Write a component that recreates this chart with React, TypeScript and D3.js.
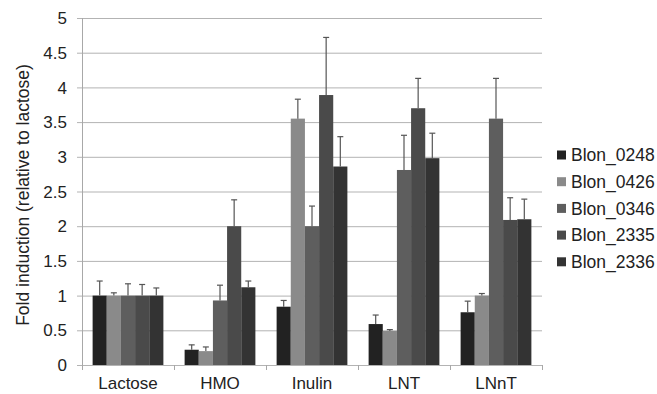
import React, { useEffect, useRef } from 'react';
import * as d3 from 'd3';

// categories on the x axis
const categories = ['Lactose', 'HMO', 'Inulin', 'LNT', 'LNnT'];
const genes = ['Blon_0248', 'Blon_0426', 'Blon_0346', 'Blon_2335', 'Blon_2336'];
const colors = ['#222222', '#8a8a8a', '#5e5e5e', '#4a4a4a', '#333333'];

// fold induction per gene, one value per category
const blon0248 = [1.0, 0.22, 0.84, 0.59, 0.76];
const blon0426 = [1.0, 0.2, 3.55, 0.49, 1.0];
const blon0346 = [1.0, 0.93, 2.0, 2.81, 3.55];
const blon2335 = [1.0, 2.0, 3.89, 3.7, 2.09];
const blon2336 = [1.0, 1.12, 2.86, 2.98, 2.1];

// top of the error bars
const err0248 = [1.21, 0.29, 0.93, 0.72, 0.92];
const err0426 = [1.04, 0.26, 3.83, 0.51, 1.03];
const err0346 = [1.17, 1.15, 2.29, 3.31, 4.13];
const err2335 = [1.16, 2.38, 4.72, 4.13, 2.41];
const err2336 = [1.11, 1.21, 3.29, 3.34, 2.39];

const yTicks = [0, 0.5, 1, 1.5, 2, 2.5, 3, 3.5, 4, 4.5, 5];

const App = () => {
  const svgRef = useRef(null);

  useEffect(() => {
    const values = [blon0248, blon0426, blon0346, blon2335, blon2336];
    const errors = [err0248, err0426, err0346, err2335, err2336];
    const font = 'Liberation Sans, Arial, sans-serif';

    const svg = d3.select(svgRef.current);
    svg.selectAll('*').remove();

    const left = 82, right = 542, top = 18, bottom = 365;

    const x = d3.scaleBand().domain(categories).range([left, right]).paddingInner(0).paddingOuter(0);
    const x1 = d3.scaleBand().domain(genes).range([0, x.bandwidth()]).paddingOuter(0.75).paddingInner(0);
    const y = d3.scaleLinear().domain([0, 5]).range([bottom, top]);

    // gridlines + left ticks
    svg.append('g')
      .selectAll('line')
      .data(yTicks)
      .join('line')
      .attr('x1', left - 5)
      .attr('x2', right)
      .attr('y1', d => y(d) + 0.5)
      .attr('y2', d => y(d) + 0.5)
      .attr('stroke', '#b3b3b3')
      .attr('stroke-width', 1);

    svg.append('g')
      .selectAll('text')
      .data(yTicks)
      .join('text')
      .attr('x', 67)
      .attr('y', d => y(d))
      .attr('dy', '0.36em')
      .attr('text-anchor', 'end')
      .attr('font-family', font)
      .attr('font-size', 17)
      .attr('fill', '#222')
      .text(d => String(d));

    // axes lines
    svg.append('line')
      .attr('x1', left + 0.5).attr('x2', left + 0.5)
      .attr('y1', top).attr('y2', bottom + 5)
      .attr('stroke', '#a8a8a8');

    const boundaries = [left].concat(categories.map(c => x(c) + x.bandwidth()));
    svg.append('g')
      .selectAll('line')
      .data(boundaries)
      .join('line')
      .attr('x1', d => d + 0.5).attr('x2', d => d + 0.5)
      .attr('y1', bottom).attr('y2', bottom + 5)
      .attr('stroke', '#a8a8a8');

    // bars
    const groups = svg.append('g')
      .selectAll('g')
      .data(genes)
      .join('g')
      .attr('fill', (d, i) => colors[i]);

    groups.each(function (gene, gi) {
      const g = d3.select(this);
      categories.forEach((cat, ci) => {
        const v = values[gi][ci];
        const bx = x(cat) + x1(gene);
        g.append('rect')
          .attr('x', bx)
          .attr('y', y(v))
          .attr('width', x1.bandwidth())
          .attr('height', y(0) - y(v));
        const cx = bx + x1.bandwidth() / 2;
        const e = errors[gi][ci];
        g.append('line')
          .attr('x1', cx).attr('x2', cx)
          .attr('y1', y(v)).attr('y2', y(e))
          .attr('stroke', '#555').attr('stroke-width', 1.2);
        g.append('line')
          .attr('x1', cx - 3).attr('x2', cx + 3)
          .attr('y1', y(e)).attr('y2', y(e))
          .attr('stroke', '#555').attr('stroke-width', 1.2);
      });
    });

    // category labels
    svg.append('g')
      .selectAll('text')
      .data(categories)
      .join('text')
      .attr('x', d => x(d) + x.bandwidth() / 2)
      .attr('y', 389)
      .attr('text-anchor', 'middle')
      .attr('font-family', font)
      .attr('font-size', 17)
      .attr('fill', '#222')
      .text(d => d);

    // y axis title
    svg.append('text')
      .attr('transform', `translate(29,195) rotate(-90)`)
      .attr('text-anchor', 'middle')
      .attr('font-family', font)
      .attr('font-size', 17.5)
      .attr('fill', '#222')
      .text('Fold induction (relative to lactose)');

    // legend
    const legend = svg.append('g')
      .selectAll('g')
      .data(genes)
      .join('g')
      .attr('transform', (d, i) => `translate(557,${155 + i * 26.7})`);

    legend.append('rect')
      .attr('x', 0).attr('y', -4.5)
      .attr('width', 9).attr('height', 9)
      .attr('fill', (d, i) => colors[i]);

    legend.append('text')
      .attr('x', 14)
      .attr('y', 0)
      .attr('dy', '0.36em')
      .attr('font-family', font)
      .attr('font-size', 17.5)
      .attr('fill', '#222')
      .text(d => d);
  }, []);

  return (
    <svg ref={svgRef} width={657} height={394}
      style={{ position: 'absolute', left: 0, top: 0, background: '#fff' }} />
  );
};

export default App;
